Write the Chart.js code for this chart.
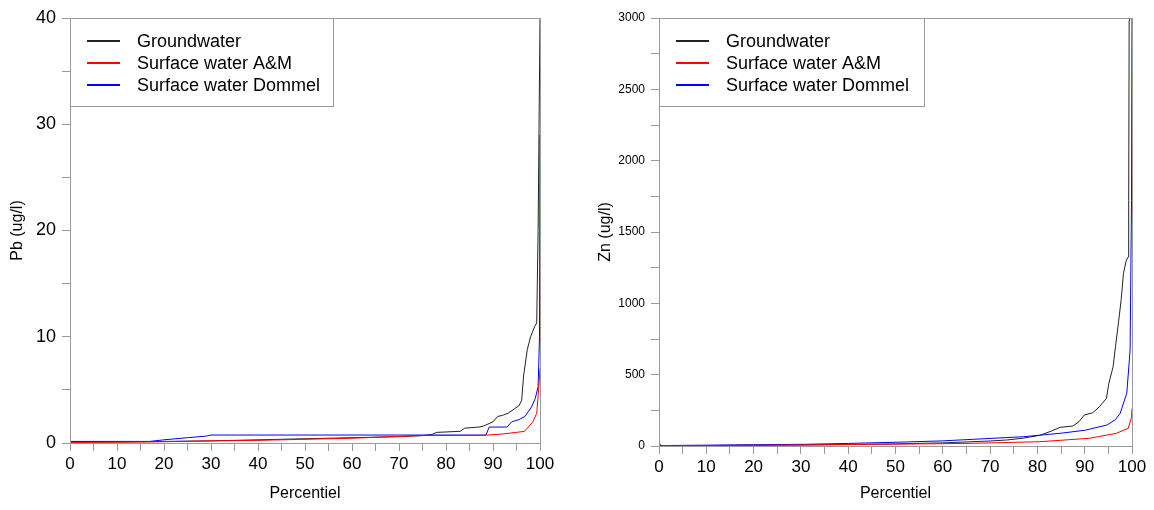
<!DOCTYPE html>
<html>
<head>
<meta charset="utf-8">
<script src="https://cdn.jsdelivr.net/npm/chart.js@4"></script>
<style>
  body { margin: 0; background: #fff; }
  #wrap { position: relative; width: 1154px; height: 510px; }
  .box { position: absolute; top: 0; height: 510px; }
</style>
</head>
<body>
<div id="wrap">
  <div class="box" style="left:0;width:580px"><canvas id="chart-pb"></canvas></div>
  <div class="box" style="left:580px;width:574px"><canvas id="chart-zn"></canvas></div>
</div>
<script>
// Series labels and colours
const seriesLabels = ['Groundwater', 'Surface water A&M', 'Surface water Dommel'];
const seriesColors = ['#222222', '#ff0000', '#0000ff'];

// Pb (ug/l) — percentile / value pairs
const pbGroundP = [0, 10, 20, 30, 40, 50, 60, 70, 75, 77, 78, 83, 84, 87, 88, 90, 91, 92, 93.2, 94.5, 95.5, 96.1, 96.5, 97.3, 98, 98.9, 99.3, 99.6, 100];
const pbGroundV = [0.1, 0.1, 0.15, 0.2, 0.3, 0.4, 0.5, 0.6, 0.7, 0.8, 1.0, 1.1, 1.4, 1.5, 1.6, 2.0, 2.5, 2.6, 2.8, 3.2, 3.5, 4.0, 6.3, 8.8, 10, 11, 11.3, 20, 40];
const pbAmP = [0, 17, 30, 40, 50, 60, 70, 75, 88, 92, 95, 96.7, 98.5, 99.3, 99.7, 100];
const pbAmV = [0.05, 0.1, 0.2, 0.25, 0.35, 0.45, 0.62, 0.7, 0.72, 0.85, 1.0, 1.1, 2.0, 2.8, 5.0, 7.0];
const pbDommelP = [0, 17, 20, 25, 29, 30, 50, 70, 88.5, 89.2, 93, 94, 95.5, 96.8, 98.2, 99, 99.6, 99.9, 100];
const pbDommelV = [0.15, 0.15, 0.3, 0.5, 0.65, 0.75, 0.75, 0.75, 0.75, 1.5, 1.5, 2.0, 2.2, 2.5, 3.4, 4.2, 5.3, 10, 29];

// Zn (ug/l) — percentile / value pairs
const znGroundP = [0, 0.3, 1, 10, 20, 30, 40, 50, 60, 70, 73.5, 77, 80.5, 83, 84.8, 87.5, 88.8, 89.9, 91.7, 93.1, 94.6, 95.1, 96, 96.5, 97.2, 97.7, 98.2, 98.8, 99.2, 99.3, 99.4, 99.5];
const znGroundV = [30, 5, 2, 3, 5, 7, 10, 15, 22, 35, 42, 55, 75, 105, 131, 140, 170, 217, 233, 275, 334, 439, 555, 695, 882, 1022, 1211, 1302, 1325, 1722, 2982, 3200];
const znAmP = [0, 20, 40, 60, 66.5, 80.5, 91, 96.7, 99.2, 99.9, 100];
const znAmV = [2, 5, 10, 16, 19, 30, 54, 89, 124, 200, 260];
const znDommelP = [0, 10, 20, 31, 40, 52, 60, 66.5, 77, 84.8, 90, 94.7, 96.5, 97.5, 98.9, 99.6, 99.9, 100];
const znDommelV = [3, 6, 9, 12, 18, 28, 36, 47, 65, 89, 110, 147, 185, 229, 371, 672, 1722, 3000];

const FONT = "'Liberation Sans', Arial, sans-serif";
const AXIS_GRAY = '#9a9a9a';

const toPoints = (ps, vs) => ps.map((p, i) => ({ x: p, y: vs[i] }));

// frame round the plot and boxed legend in the upper left corner
const frameLegend = {
  id: 'frameLegend',
  afterDraw(chart) {
    const { ctx, chartArea: a } = chart;
    const L = Math.round(a.left), T = Math.round(a.top);
    ctx.save();
    ctx.strokeStyle = AXIS_GRAY;
    ctx.lineWidth = 1;
    ctx.strokeRect(L + 0.5, T + 0.5, Math.round(a.right) - L, Math.round(a.bottom) - T);

    const bw = chart.options.legendBoxWidth, bh = 88;
    ctx.fillStyle = '#fff';
    ctx.fillRect(L, T, bw, bh);
    ctx.strokeRect(L + 0.5, T + 0.5, bw, bh);

    ctx.font = '18px ' + FONT;
    ctx.textBaseline = 'middle';
    ctx.textAlign = 'left';
    for (let i = 0; i < seriesLabels.length; i++) {
      const y = T + 23 + i * 22;
      ctx.fillStyle = seriesColors[i];
      ctx.fillRect(L + 17, y - 1, 33, 2);
      ctx.fillStyle = '#000000';
      ctx.fillText(seriesLabels[i], L + 67, y + 1);
    }
    ctx.restore();
  }
};

function makeChart(id, sets, cfg) {
  const datasets = sets.map((pts, i) => ({
    label: seriesLabels[i],
    data: pts,
    borderColor: seriesColors[i],
    borderWidth: 1,
    pointRadius: 0,
    tension: 0,
    order: i === 0 ? 2 : 1
  }));

  return new Chart(document.getElementById(id).getContext('2d'), {
    type: 'line',
    data: { datasets },
    plugins: [frameLegend],
    options: {
      responsive: true,
      maintainAspectRatio: false,
      animation: false,
      legendBoxWidth: cfg.legendW,
      layout: { autoPadding: false, padding: { left: 0, top: 18, right: cfg.padRight, bottom: 0 } },
      plugins: { legend: { display: false }, tooltip: { enabled: false } },
      scales: {
        x: {
          type: 'linear',
          min: 0,
          max: 100,
          afterFit: (s) => { s.height = cfg.xHeight; },
          border: { display: false },
          grid: { drawOnChartArea: false, tickLength: 8, color: AXIS_GRAY },
          ticks: {
            stepSize: 5,
            autoSkip: false,
            maxRotation: 0,
            padding: 3,
            color: '#000',
            font: { family: FONT, size: 17 },
            callback: (v) => (v % 10 === 0 ? v : '')
          },
          title: {
            display: true,
            text: 'Percentiel',
            color: '#000',
            font: { family: FONT, size: 16 },
            padding: { top: 0, bottom: 7 }
          }
        },
        y: {
          min: 0,
          max: cfg.yMax,
          afterFit: (s) => { s.width = cfg.yWidth; },
          border: { display: false },
          grid: { drawOnChartArea: false, tickLength: 8, color: AXIS_GRAY },
          ticks: {
            stepSize: cfg.yMinor,
            autoSkip: false,
            padding: 6,
            color: '#000',
            font: { family: FONT, size: cfg.yFont },
            callback: (v) => (v % cfg.yMajor === 0 ? v : '')
          },
          title: {
            display: true,
            text: cfg.yTitle,
            color: '#000',
            font: { family: FONT, size: 16 },
            padding: { top: cfg.yTitlePad, bottom: 0 }
          }
        }
      }
    }
  });
}

makeChart('chart-pb', [
  toPoints(pbGroundP, pbGroundV),
  toPoints(pbAmP, pbAmV),
  toPoints(pbDommelP, pbDommelV)
], { yMax: 40, yMajor: 10, yMinor: 5, yFont: 18, yTitle: 'Pb (ug/l)', yTitlePad: 8, yWidth: 70, xHeight: 67, padRight: 40, legendW: 263 });

makeChart('chart-zn', [
  toPoints(znGroundP, znGroundV),
  toPoints(znAmP, znAmV),
  toPoints(znDommelP, znDommelV)
], { yMax: 3000, yMajor: 500, yMinor: 250, yFont: 12, yTitle: 'Zn (ug/l)', yTitlePad: 16, yWidth: 79, xHeight: 64, padRight: 22, legendW: 265 });
</script>
</body>
</html>
